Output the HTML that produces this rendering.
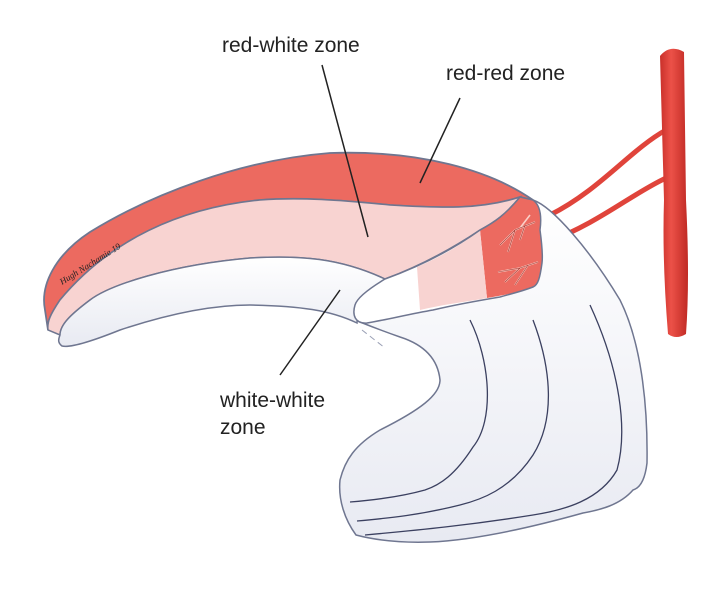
<!DOCTYPE html>
<html><head><meta charset="utf-8"><style>
html,body{margin:0;padding:0;background:#fff;}
svg{display:block;}
text{font-family:"Liberation Sans",sans-serif;font-size:21px;fill:#222;}
</style></head><body>
<svg width="718" height="599" viewBox="0 0 718 599" xmlns="http://www.w3.org/2000/svg">
<defs>
<linearGradient id="v" x1="0" x2="1"><stop offset="0" stop-color="#c9302a"/><stop offset="0.4" stop-color="#ec5148"/><stop offset="1" stop-color="#c02a24"/></linearGradient>
<linearGradient id="sh" x1="0" y1="0" x2="0" y2="1"><stop offset="0" stop-color="#ffffff"/><stop offset="1" stop-color="#e8eaf2"/></linearGradient>
</defs>
<path d="M666 130 C630 150 600 190 550 215" stroke="#e0443b" stroke-width="5" fill="none"/>
<path d="M666 178 C630 195 600 222 548 242" stroke="#e0443b" stroke-width="5" fill="none"/>
<path d="M660 56 Q670 44 684 52 L686 200 Q690 280 686 334 Q676 340 668 334 Q662 260 664 200 Z" fill="url(#v)"/>
<!-- lower body -->
<path d="M533 200 C553 207 590 250 620 300 C640 340 648 400 647 463 C645 480 640 488 633 490 C620 505 600 510 583 513 C540 525 480 540 430 542 C400 543 375 540 356 535 C345 520 338 500 340 480 C345 460 355 445 380 430 C420 410 440 395 440 380 C438 360 425 345 400 337 C380 330 370 326 360 322 L380 305 L533 200 Z" fill="url(#sh)" stroke="#6f7690" stroke-width="1.5"/>
<path d="M470 320 C490 360 495 420 473 447 C455 475 440 485 425 490 C400 497 375 500 350 502" fill="none" stroke="#3b4060" stroke-width="1.3"/>
<path d="M533 320 C552 370 555 420 533 455 C510 490 480 500 460 505 C420 515 390 518 357 521" fill="none" stroke="#3b4060" stroke-width="1.3"/>
<path d="M590 305 C620 370 628 430 617 470 C600 500 565 510 533 515 C470 525 420 530 365 535" fill="none" stroke="#3b4060" stroke-width="1.3"/>
<path d="M362 330 L385 348" stroke="#9aa0b5" stroke-width="1" stroke-dasharray="6 4"/>
<!-- red outer band -->
<path d="M45 310 C40 285 55 255 90 232 C150 195 240 160 330 153 C420 150 490 170 533 200 L520 197 C480 210 440 208 390 205 C340 200 300 197 260 200 C180 208 110 240 60 300 C50 315 47 322 48 330 Z" fill="#ec6a60" stroke="#6f7690" stroke-width="1.8"/>
<!-- pink band -->
<path d="M48 330 C47 322 50 315 60 300 C110 240 180 208 260 200 C300 197 340 200 390 205 C440 208 480 210 520 197 C505 215 495 222 480 230 C450 250 420 266 385 279 C340 258 300 255 250 258 C170 265 110 285 90 300 C70 315 60 325 60 335 Z" fill="#f8d3d1" stroke="#6f7690" stroke-width="1.5"/>
<!-- white inner band -->
<path d="M60 335 C60 325 70 315 90 300 C110 285 170 265 250 258 C300 255 340 258 385 279 C370 288 358 300 357 323 C330 310 300 306 250 305 C200 305 150 320 120 330 C90 342 70 348 62 346 C58 343 58 340 60 335 Z" fill="url(#sh)" stroke="#6f7690" stroke-width="1.5"/>
<!-- cross-section face -->
<path d="M520 197 L533 200 C540 205 542 215 540 230 C542 245 543 255 542 263 C540 278 538 285 533 287 C520 292 510 294 500 297 C470 302 450 306 433 310 C410 314 385 320 367 323 C355 324 352 315 355 305 C357 298 370 288 385 279 C410 270 445 255 480 230 C495 222 505 215 520 197 Z" fill="#fff"/>
<path d="M480 230 C495 222 505 215 520 197 L533 200 C540 205 542 215 540 230 C542 245 543 255 542 263 C540 278 538 285 533 287 C520 292 505 295 487 298 Z" fill="#ec6a60"/>
<path d="M417 267 C445 255 465 242 480 230 L487 298 C465 302 440 305 420 310 Z" fill="#f8d3d1"/>
<path d="M520 197 L533 200 C540 205 542 215 540 230 C542 245 543 255 542 263 C540 278 538 285 533 287 C520 292 510 294 500 297 C470 302 450 306 433 310 C410 314 385 320 367 323 C355 324 352 315 355 305 C357 298 370 288 385 279 C410 270 445 255 480 230 C495 222 505 215 520 197 Z" fill="none" stroke="#6f7690" stroke-width="1.5"/>
<g stroke="#fbd0c8" stroke-width="1.6" fill="none">
<path d="M535 222 L515 230 L500 245 M515 230 L508 252 M525 225 L520 240 M520 228 L530 215"/>
<path d="M538 262 L520 268 L498 272 M520 268 L505 282 M528 265 L515 285"/>
</g>
<g stroke="#9c2a24" stroke-width="0.6" fill="none">
<path d="M535 222 L515 230 L500 245 M515 230 L508 252 M525 225 L520 240"/>
<path d="M538 262 L520 268 L498 272 M520 268 L505 282 M528 265 L515 285"/>
</g>
<text x="62" y="285" transform="rotate(-32 62 285)" style="font-family:'Liberation Serif',serif;font-style:italic;font-size:9px;fill:#222">Hugh Nachamie 19</text>
<g stroke="#222" stroke-width="1.5">
<line x1="322" y1="65" x2="368" y2="237"/>
<line x1="460" y1="98" x2="420" y2="183"/>
<line x1="340" y1="290" x2="280" y2="375"/>
</g>
<text x="222" y="52">red-white zone</text>
<text x="446" y="80">red-red zone</text>
<text x="220" y="407">white-white</text>
<text x="220" y="434">zone</text>
</svg>
</body></html>
